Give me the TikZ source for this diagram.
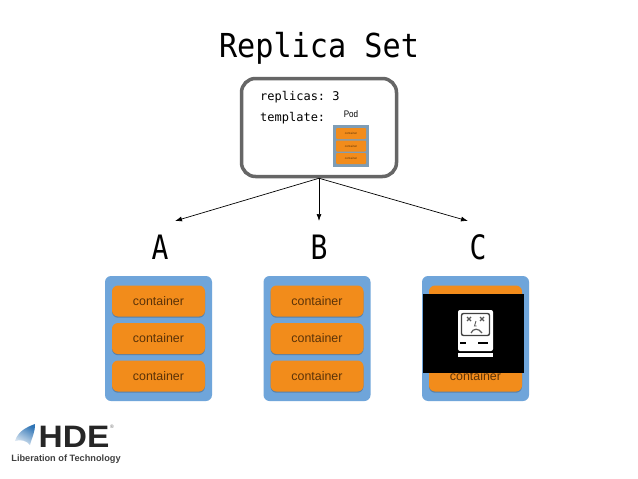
\documentclass[tikz,border=0pt]{standalone}
\usepackage{fontspec}
\setmainfont{Liberation Sans}
\setmonofont{DejaVu Sans Mono}
\usetikzlibrary{calc,shapes,arrows,arrows.meta,positioning,shadows}
\definecolor{podblue}{HTML}{6FA5DA}
\definecolor{boxorange}{HTML}{F28C1B}
\definecolor{minigray}{HTML}{7F9DB5}
\definecolor{textbrown}{HTML}{5A3208}
\definecolor{logoblue}{HTML}{2F74B5}
\begin{document}
\begin{tikzpicture}[x=1pt,y=-1pt,
			pod/.style={fill=podblue, rectangle, rounded corners=6pt, minimum width=107pt, minimum height=125pt, node distance={158.5pt}},
			container/.style={fill=boxorange, rectangle, rounded corners=6pt, minimum width=93pt, minimum height=31pt, text=textbrown, font=\fontsize{12.4}{14}\selectfont, node distance={37.5pt}, drop shadow={shadow xshift=0pt, shadow yshift=-1.2pt, fill=black, opacity=0.22}},
			minipod/.style={fill=minigray, rectangle, minimum width=36pt, minimum height=42pt},
			minibox/.style={fill=boxorange, rectangle, rounded corners=1pt, inner sep=0pt, minimum width=30pt, minimum height=11pt, text=textbrown, font=\fontsize{3}{3}\selectfont, node distance={12.5pt}},
			letter/.style={font=\ttfamily\fontsize{28}{34}\selectfont, yscale=1.2, transform shape, node distance={159pt}},
			spec/.style={font=\ttfamily\fontsize{12}{14}\selectfont, inner sep=0pt, anchor=west},
			link/.style={black, line width=0.7pt, -{Latex[length=7pt,width=5pt]}}
			]
			\useasboundingbox (0,0) rectangle (638,479);
			\fill[white] (0,0) rectangle (638,479);

			\node [font=\ttfamily\fontsize{33}{38}\selectfont, xscale=0.915, transform shape](title) at (319,48.5) {Replica Set};

			\node [draw=black!60, fill=white, line width=3.5pt, rectangle, rounded corners=14pt, minimum width=155pt, minimum height=98pt](rs) at (319,127.5) {};
			\node [spec](replicas) at (260,97.5) {replicas: 3};
			\node [spec](template) at (260,118) {template:};
			\node [font=\fontsize{9.5}{10}\selectfont, inner sep=0pt, xscale=0.85, transform shape](podlabel) at (351,114) {Pod};
			\node [minipod](mini) at (351,146) {};
			\node [minibox](m2) at (351,146) {container};
			\node [minibox](m1) [above of=m2] {container};
			\node [minibox](m3) [below of=m2] {container};

			\node [letter](la) at (160,247) {A};
			\node [letter](lb) [right of=la] {B};
			\node [letter](lc) [right of=lb] {C};

			\coordinate (ta) at (175,221);
			\coordinate (tb) at (319,221);
			\coordinate (tc) at (468,221);
			\draw[link] (rs.south) -- (ta);
			\draw[link] (rs.south) -- (tb);
			\draw[link] (rs.south) -- (tc);

			\node [pod](a) at (158.5,338.5) {};
			\node [pod](b) [right of=a] {};
			\node [pod](c) [right of=b] {};
			\node [container](a2) at (a) {container};
			\node [container](a1) [above of=a2] {container};
			\node [container](a3) [below of=a2] {container};
			\node [container](b2) at (b) {container};
			\node [container](b1) [above of=b2] {container};
			\node [container](b3) [below of=b2] {container};
			\node [container](c2) at (c) {container};
			\node [container](c1) [above of=c2] {container};
			\node [container](c3) [below of=c2] {container};

			% crash screen
			\node [fill=black, rectangle, inner sep=0pt, minimum width=101pt, minimum height=79pt](crash) at (473.5,333.5) {};
			\fill[white, rounded corners=2pt] (458,310) rectangle (493,351);
			\fill[white] (458,352.5) rectangle (493,357);
			\draw[black!75, line width=1.4pt, rounded corners=2pt] (461.5,313.5) rectangle (489.5,335.5);
			\draw[black!65, line width=1.2pt] (467,317) -- (471,321) (471,317) -- (467,321) (480,317) -- (484,321) (484,317) -- (480,321);
			\draw[black!65, line width=0.9pt] (476,321) -- (474.5,326) -- (476.5,326);
			\draw[black!65, line width=1.2pt] (471,333) .. controls (473,328) and (479,328) .. (482,333);
			\draw[black, line width=1.2pt] (460,343) -- (466,343) (478,343) -- (488,343);

			% logo
			\shade[top color=logoblue, bottom color=logoblue!15, shading angle=-30] (15,441) .. controls (18,431) and (27,427) .. (35,424) .. controls (35,433) and (32,437) .. (30,445) .. controls (27,441) and (21,439) .. (15,441) -- cycle;
			\node [font=\bfseries\fontsize{31}{34}\selectfont, text=black!85, inner sep=0pt, xscale=1.08, transform shape](hde) at (74,437) {HDE};
			\node [font=\fontsize{5}{5}\selectfont, text=black!60, inner sep=0pt](reg) at (112,427) {®};
			\node [font=\bfseries\fontsize{9.2}{11}\selectfont, text=black!75, inner sep=0pt](slogan) at (66,459.5) {Liberation of Technology};
\end{tikzpicture}
\end{document}
